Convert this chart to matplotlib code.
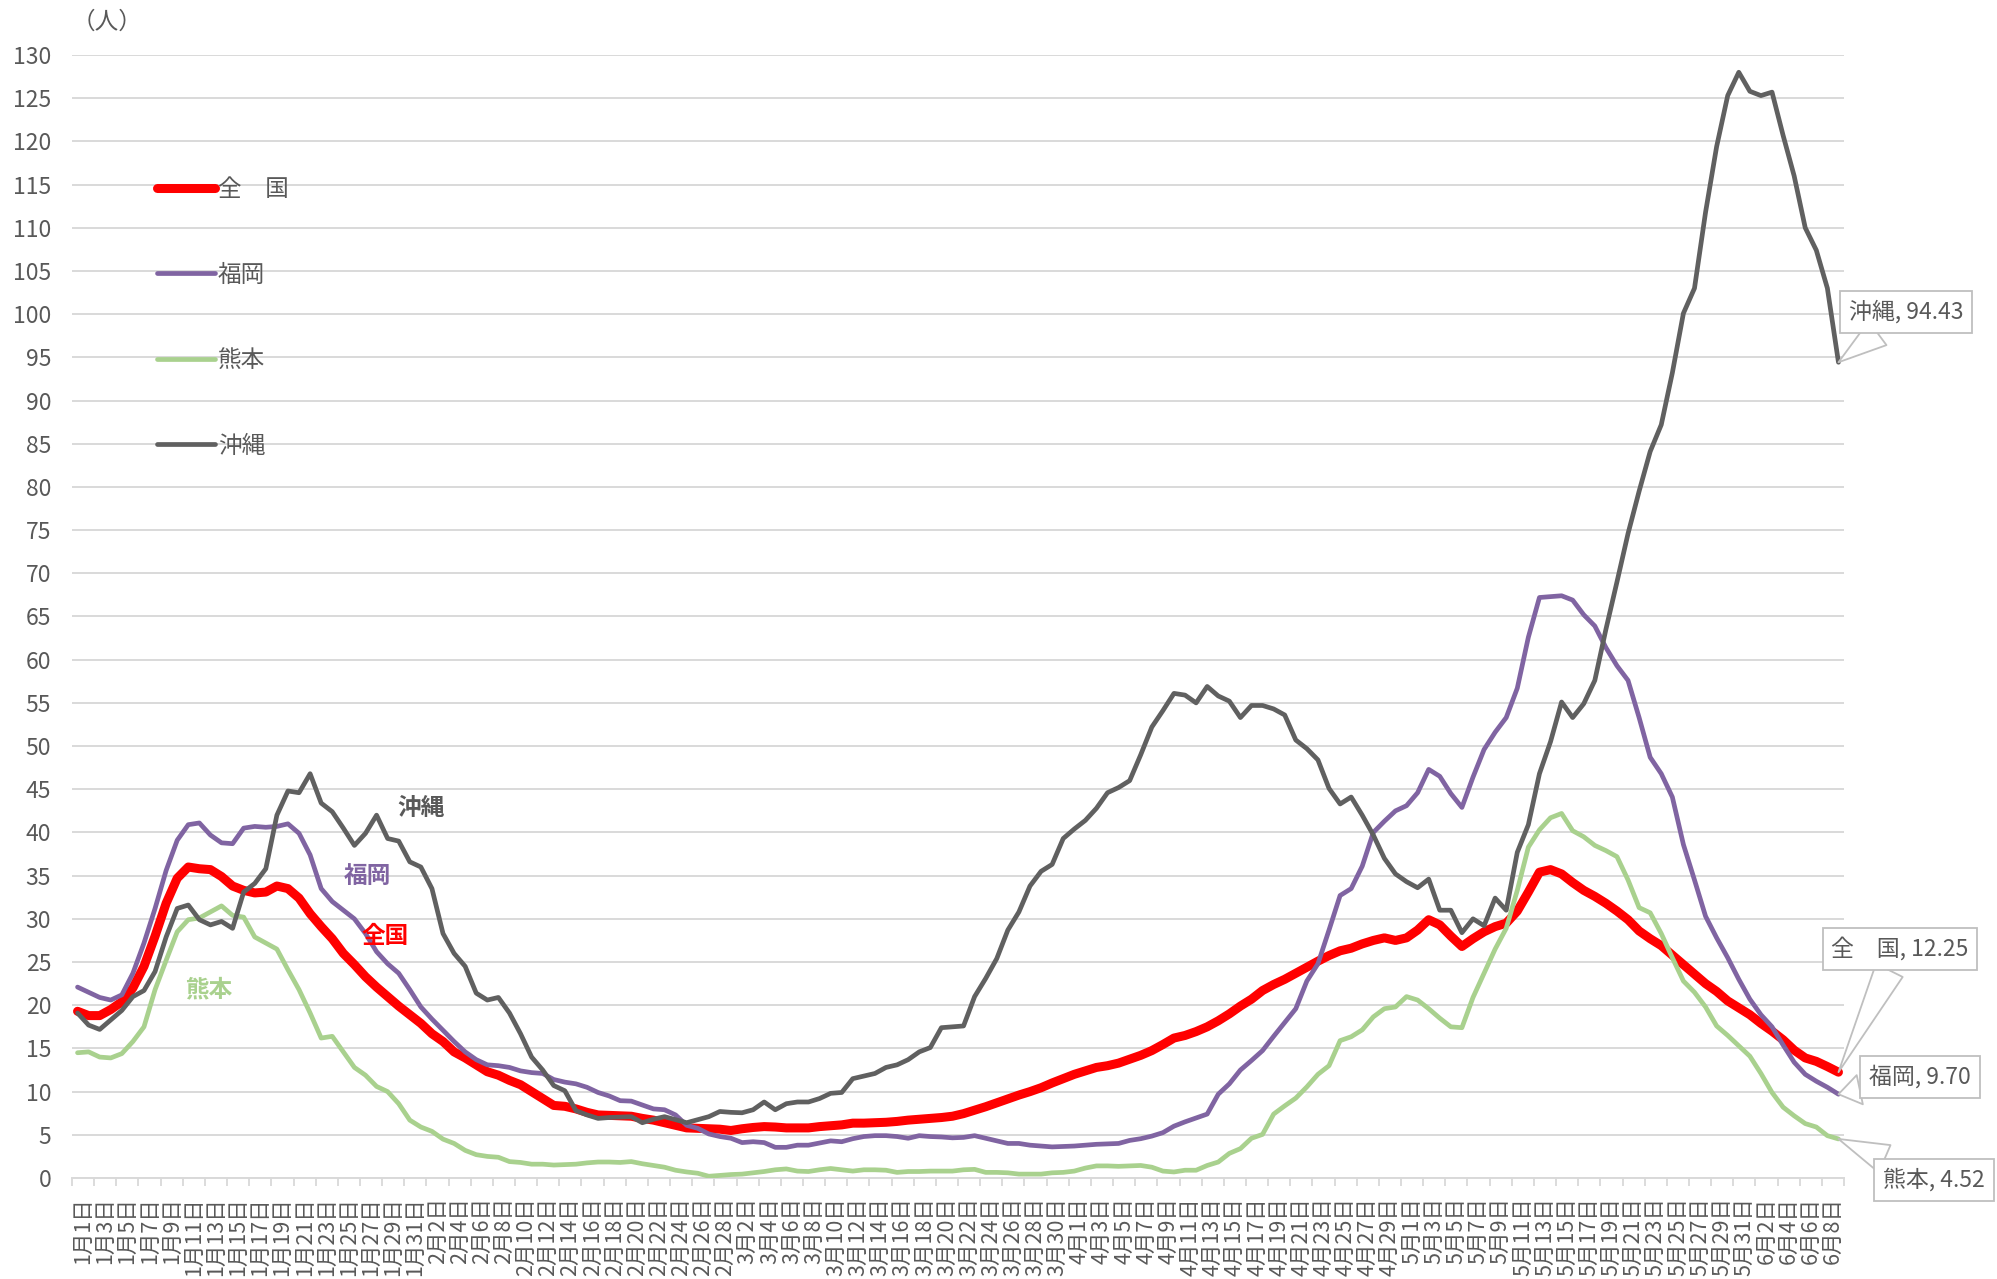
import datetime as dt
import numpy as np
import matplotlib
matplotlib.use("Agg")
import matplotlib.pyplot as plt

plt.rcParams['font.family'] = ['Noto Sans CJK JP', 'DejaVu Sans']

# ---------------- data ----------------
start_date = dt.date(2022, 1, 1)
n_days = 160
dates = [start_date + dt.timedelta(days=k) for k in range(n_days)]
tick_labels = [f"{d.month}月{d.day}日" for d in dates[0::2]]

series_names = ["全　国", "福岡", "熊本", "沖縄"]

national = [
    19.3, 18.8, 18.8, 19.5, 20.4, 22.0, 24.5, 28.0, 31.8, 34.7,
    36.0, 35.8, 35.7, 34.9, 33.8, 33.3, 33.0, 33.1, 33.8, 33.5,
    32.4, 30.6, 29.1, 27.7, 26.0, 24.7, 23.3, 22.1, 21.0, 19.9,
    18.9, 17.9, 16.7, 15.8, 14.6, 13.9, 13.1, 12.3, 11.9, 11.3,
    10.8, 10.0, 9.2, 8.4, 8.3, 8.0, 7.6, 7.3, 7.25, 7.2,
    7.15, 6.9, 6.7, 6.4, 6.1, 5.8, 5.75, 5.7, 5.65, 5.5,
    5.7, 5.85, 5.95, 5.9, 5.8, 5.8, 5.8, 5.95, 6.05, 6.15,
    6.35, 6.35, 6.4, 6.45, 6.55, 6.7, 6.8, 6.9, 7.0, 7.15,
    7.45, 7.85, 8.25, 8.7, 9.15, 9.6, 10.0, 10.45, 11.0, 11.5,
    12.0, 12.4, 12.8, 13.0, 13.3, 13.75, 14.2, 14.75, 15.45, 16.2,
    16.5, 16.95, 17.5, 18.2, 19.0, 19.9, 20.7, 21.7, 22.4, 23.0,
    23.7, 24.4, 25.1, 25.75, 26.3, 26.6, 27.1, 27.5, 27.8, 27.5,
    27.8, 28.7, 29.9, 29.3, 28.0, 26.8, 27.7, 28.5, 29.1, 29.5,
    30.9, 33.1, 35.4, 35.7, 35.2, 34.2, 33.3, 32.6, 31.8, 30.9,
    29.9, 28.6, 27.7, 26.9, 25.8, 24.7, 23.6, 22.5, 21.6, 20.5,
    19.7, 18.9, 17.9, 17.0, 16.0, 14.8, 13.9, 13.5, 12.9, 12.25,
]

fukuoka = [
    22.1, 21.5, 20.9, 20.6, 21.2, 23.7, 27.2, 31.2, 35.6, 39.1,
    40.9, 41.1, 39.7, 38.8, 38.7, 40.5, 40.7, 40.6, 40.7, 41.0,
    39.9, 37.4, 33.5, 32.0, 31.0, 30.0, 28.3, 26.2, 24.8, 23.7,
    21.8, 19.8, 18.4, 17.1, 15.8, 14.6, 13.7, 13.1, 13.0, 12.8,
    12.4, 12.2, 12.1, 11.4, 11.1, 10.9, 10.5, 9.9, 9.5, 8.95,
    8.9, 8.45, 8.0, 7.9, 7.3, 6.1, 5.75, 5.1, 4.8, 4.6,
    4.1, 4.2, 4.1, 3.55, 3.55, 3.8, 3.8, 4.05, 4.3, 4.2,
    4.55, 4.8, 4.9, 4.9, 4.8, 4.6, 4.9, 4.8, 4.75, 4.65,
    4.7, 4.9, 4.6, 4.3, 4.0, 4.0, 3.8, 3.7, 3.6, 3.65,
    3.7, 3.8, 3.9, 3.95, 4.0, 4.35, 4.55, 4.85, 5.25, 6.0,
    6.5, 6.95, 7.4, 9.7, 10.9, 12.5, 13.6, 14.75, 16.4, 18.0,
    19.6, 22.8, 24.8, 28.7, 32.7, 33.5, 36.1, 40.0, 41.3, 42.5,
    43.1, 44.6, 47.3, 46.5, 44.5, 42.9, 46.4, 49.6, 51.6, 53.3,
    56.7, 62.6, 67.2, 67.3, 67.4, 66.9, 65.2, 63.9, 61.4, 59.3,
    57.6, 53.3, 48.7, 46.8, 44.1, 38.6, 34.5, 30.3, 27.8, 25.5,
    23.0, 20.7, 18.9, 17.5, 15.4, 13.4, 12.0, 11.2, 10.5, 9.70,
]

kumamoto = [
    14.5, 14.6, 14.0, 13.9, 14.4, 15.8, 17.5, 21.8, 25.2, 28.5,
    29.9, 30.1, 30.8, 31.5, 30.4, 30.2, 27.9, 27.2, 26.5, 24.1,
    21.8, 19.1, 16.2, 16.4, 14.6, 12.8, 11.9, 10.6, 10.0, 8.6,
    6.7, 5.9, 5.4, 4.5, 4.0, 3.2, 2.7, 2.5, 2.4, 1.9,
    1.8, 1.6, 1.6, 1.5, 1.55, 1.6, 1.75, 1.85, 1.85, 1.8,
    1.9, 1.65, 1.45, 1.25, 0.9, 0.7, 0.55, 0.2, 0.3, 0.4,
    0.45, 0.6, 0.75, 0.95, 1.05, 0.8, 0.75, 0.95, 1.1, 0.95,
    0.8, 0.95, 0.95, 0.9, 0.65, 0.75, 0.75, 0.8, 0.8, 0.8,
    0.95, 1.0, 0.65, 0.65, 0.6, 0.45, 0.45, 0.45, 0.6, 0.65,
    0.8, 1.15, 1.4, 1.4, 1.35, 1.4, 1.45, 1.25, 0.8, 0.7,
    0.9, 0.9, 1.45, 1.85, 2.85, 3.4, 4.6, 5.05, 7.4, 8.35,
    9.25, 10.55, 12.0, 13.0, 15.9, 16.35, 17.15, 18.65, 19.6, 19.8,
    21.0, 20.6, 19.6, 18.5, 17.5, 17.4, 20.9, 23.7, 26.5, 28.9,
    33.3, 38.3, 40.3, 41.7, 42.2, 40.2, 39.5, 38.5, 37.9, 37.2,
    34.5, 31.3, 30.7, 28.3, 25.5, 22.8, 21.5, 19.8, 17.6, 16.5,
    15.3, 14.1, 12.1, 9.9, 8.2, 7.2, 6.3, 5.9, 4.9, 4.52,
]

okinawa = [
    19.1, 17.7, 17.2, 18.3, 19.4, 21.0, 21.7, 23.9, 27.9, 31.2,
    31.6, 29.9, 29.3, 29.7, 28.9, 33.1, 34.1, 35.8, 42.0, 44.8,
    44.6, 46.8, 43.4, 42.4, 40.5, 38.5, 39.9, 42.0, 39.3, 39.0,
    36.6, 36.0, 33.5, 28.3, 26.0, 24.5, 21.4, 20.6, 20.9, 19.1,
    16.7, 14.0, 12.5, 10.7, 10.1, 7.8, 7.3, 6.9, 7.0, 7.05,
    7.1, 6.4, 6.8, 7.1, 6.75, 6.4, 6.75, 7.1, 7.7, 7.6,
    7.55, 7.9, 8.8, 7.9, 8.6, 8.8, 8.8, 9.2, 9.8, 9.9,
    11.5, 11.8, 12.1, 12.8, 13.1, 13.7, 14.6, 15.1, 17.4, 17.5,
    17.6, 21.0, 23.1, 25.4, 28.7, 30.8, 33.8, 35.5, 36.3, 39.3,
    40.4, 41.4, 42.8, 44.6, 45.2, 46.0, 49.0, 52.2, 54.1, 56.1,
    55.9, 55.0, 56.9, 55.8, 55.2, 53.3, 54.7, 54.7, 54.3, 53.6,
    50.7, 49.7, 48.4, 45.1, 43.3, 44.1, 42.0, 39.7, 37.0, 35.2,
    34.3, 33.6, 34.6, 31.0, 31.0, 28.4, 30.0, 29.2, 32.4, 31.0,
    37.7, 40.9, 46.8, 50.5, 55.1, 53.3, 54.9, 57.6, 63.5, 69.0,
    74.6, 79.5, 84.1, 87.2, 93.2, 100.1, 103.0, 111.8, 119.4, 125.3,
    128.0, 125.8, 125.3, 125.7, 120.7, 116.0, 110.0, 107.4, 103.0, 94.43,
]

# ---------------- styling ----------------
colors = {"全　国": "#FF0000", "福岡": "#8064A2", "熊本": "#A9D18E", "沖縄": "#606060"}
widths = {"全　国": 6.5, "福岡": 3.4, "熊本": 3.4, "沖縄": 3.4}
text_color = "#595959"
grid_color = "#D9D9D9"

W, H = 1997, 1279
fig = plt.figure(figsize=(W / 100, H / 100), dpi=100)
left_px, right_px, top_px, bottom_px = 72, 1844, 55, 1178
ax = fig.add_axes([left_px / W, 1 - bottom_px / H,
                   (right_px - left_px) / W, (bottom_px - top_px) / H])

x = np.arange(n_days)
all_series = {"全　国": national, "福岡": fukuoka, "熊本": kumamoto, "沖縄": okinawa}
handles = []
for z, name in enumerate(series_names):
    ln, = ax.plot(x, all_series[name], color=colors[name], lw=widths[name],
                  solid_capstyle="round", solid_joinstyle="round", zorder=3 + z,
                  label=name)
    handles.append(ln)

ax.set_xlim(-0.5, n_days - 0.5)
ax.set_ylim(0, 130)
ax.set_yticks(np.arange(0, 131, 5))
ax.yaxis.grid(True, color=grid_color, lw=1.4)
ax.set_axisbelow(True)
for s in ["top", "right", "left"]:
    ax.spines[s].set_visible(False)
ax.spines["bottom"].set_color(grid_color)
ax.spines["bottom"].set_linewidth(1.4)
ax.tick_params(axis="y", length=0, pad=15, labelsize=16.5, labelcolor=text_color)

# x ticks: marks at group boundaries, labels centred between them
ax.set_xticks(np.arange(-0.5, n_days, 2))
ax.set_xticklabels([])
ax.tick_params(axis="x", which="major", length=6, width=1.3, color=grid_color)
ax.set_xticks(np.arange(0, n_days, 2) + 0.5, minor=True)
ax.set_xticklabels(tick_labels, minor=True, rotation=90, fontsize=15.5, color=text_color)
ax.tick_params(axis="x", which="minor", length=0, pad=14)

# unit label
fig.text(107 / W, 1 - 22 / H, "（人）", fontsize=17, color=text_color,
         ha="center", va="center")

# legend
leg = ax.legend(handles, series_names, loc="upper left",
                bbox_to_anchor=(157 / W, 1 - 178 / H), bbox_transform=fig.transFigure,
                frameon=False, fontsize=17, handlelength=2.45, handletextpad=0.12,
                labelspacing=2.65, borderpad=0, borderaxespad=0, labelcolor=text_color)

# inline series labels
inline = [("沖縄", 31.0, 42.8, "#595959"), ("福岡", 26.2, 35.0, "#8064A2"),
          ("全国", 27.8, 28.0, "#FF0000"), ("熊本", 11.8, 21.8, "#A9D18E")]
for txt, xi, yi, c in inline:
    ax.text(xi, yi, txt, fontsize=17, fontweight="bold", color=c,
            ha="center", va="center", zorder=10)

# callouts for last values
callouts = [("沖縄", okinawa, (1906, 312)), ("全　国", national, (1900, 949)),
            ("福岡", fukuoka, (1920, 1077)), ("熊本", kumamoto, (1934, 1180))]
for name, vals, (px, py) in callouts:
    ax.annotate(f"{name}, {vals[-1]:.2f}", xy=(x[-1], vals[-1]),
                xytext=(px / W, 1 - py / H), textcoords="figure fraction",
                ha="center", va="center", fontsize=16.5, color=text_color,
                bbox=dict(boxstyle="square,pad=0.38", fc="white", ec="#BFBFBF", lw=1.3),
                arrowprops=dict(arrowstyle="wedge,tail_width=1.3,shrink_factor=0.5",
                                fc="white", ec="#BFBFBF", lw=1.3, shrinkA=0, shrinkB=0),
                annotation_clip=False, zorder=20)

fig.savefig("out.png", dpi=100)
